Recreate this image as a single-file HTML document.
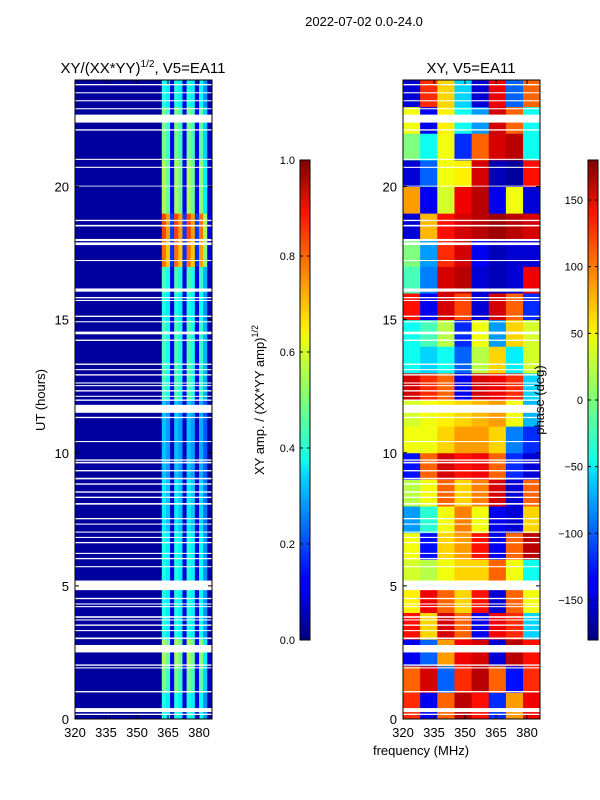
<!DOCTYPE html>
<html><head><meta charset="utf-8">
<style>
html,body{margin:0;padding:0;background:#fff;}
svg{display:block;font-family:"Liberation Sans","DejaVu Sans",sans-serif;}
</style></head>
<body>
<svg id="fig" width="600" height="800" viewBox="0 0 600 800" xmlns="http://www.w3.org/2000/svg">
<defs>
<linearGradient id="jet" x1="0" y1="1" x2="0" y2="0">
<stop offset="0" stop-color="#00007f"/><stop offset="0.11" stop-color="#0000ff"/><stop offset="0.125" stop-color="#0000ff"/>
<stop offset="0.34" stop-color="#00d4ff"/><stop offset="0.375" stop-color="#0dffea"/><stop offset="0.5" stop-color="#7dff7a"/>
<stop offset="0.625" stop-color="#eaff0d"/><stop offset="0.66" stop-color="#ffe600"/><stop offset="0.89" stop-color="#ff1300"/><stop offset="1" stop-color="#7f0000"/>
</linearGradient>
</defs>
<text x="364" y="26" font-size="13" text-anchor="middle">2022-07-02 0.0-24.0</text>
<text x="143" y="73" font-size="15" text-anchor="middle">XY/(XX*YY)<tspan font-size="10" dy="-6">1/2</tspan><tspan dy="6">, V5=EA11</tspan></text>
<text x="471" y="73" font-size="15" text-anchor="middle">XY, V5=EA11</text>
<g id="ampPanel"></g>
<g id="phasePanel"></g>
<text transform="translate(45,400) rotate(-90)" font-size="13" text-anchor="middle">UT (hours)</text>
<text x="421" y="755" font-size="13" text-anchor="middle">frequency (MHz)</text>
<rect x="300" y="160" width="10" height="480" fill="url(#jet)" stroke="#000" stroke-width="1"/>
<text transform="translate(264,400) rotate(-90)" font-size="13" text-anchor="middle">XY amp. / (XX*YY amp)<tspan font-size="9" dy="-6">1/2</tspan></text>
<rect x="588" y="160" width="10" height="480" fill="url(#jet)" stroke="#000" stroke-width="1"/>
<text transform="translate(544,400) rotate(-90)" font-size="13" text-anchor="middle">phase (deg)</text>
<g id="cbTicks"></g>
</svg>
<script>
const hours = [0,1,2,3,4,5,6,7,8,9,10,11,12,13,14,15,16,17,18,19,20,21,22,23];
const ampRowLevel = [0.45,0.55,0.6,0.45,0.45,0.45,0.45,0.4,0.4,0.35,0.35,0.35,0.5,0.5,0.5,0.45,0.5,0.85,0.9,0.6,0.6,0.55,0.55,0.45];
const ampFreqEdges = [320,362,364,366,368,370,372,374,376,378,380,382,384,386.3];
const ampFreqProfile = [0.03,0.9,0.8,0.2,0.9,0.8,0.2,0.9,0.8,0.2,0.85,0.6,0.1];
const phaseFreqEdges = [320,328.3,336.6,344.9,353.2,361.5,369.8,378.1,386.3];
const phaseGrid = [
[120,-140,100,160,130,-120,80,140],
[100,150,-100,120,160,100,-130,120],
[-140,-100,80,140,150,-150,160,130],
[130,60,150,100,-140,140,120,-60],
[50,140,100,60,130,-150,100,40],
[30,20,40,60,60,100,40,-40],
[40,-130,60,80,130,-140,100,160],
[-80,-30,40,90,40,-140,-150,60],
[20,40,100,60,90,150,-150,100],
[-130,100,150,130,140,100,-120,-150],
[40,40,60,80,80,60,-90,-120],
[30,40,50,60,70,80,40,-70],
[150,120,100,-140,150,140,120,-60],
[-40,-60,-40,-100,20,60,-50,30],
[-40,-20,20,-120,40,-80,60,30],
[130,-140,150,110,-150,150,100,-120],
[-20,-90,150,160,-150,-160,-150,140],
[0,-80,120,150,-140,-160,-150,-150],
[-150,70,130,150,160,170,160,150],
[80,-140,30,140,160,-140,40,-150],
[-150,-100,40,50,150,-160,-170,130],
[0,-40,40,-120,100,150,160,-40],
[40,-140,50,-40,-80,150,100,-40],
[-150,120,60,-60,-150,140,-100,100]];
const gapStart = [0.15,0.26,1.0,1.9,2.0,2.5,3.0,3.3,3.5,3.7,3.8,4.2,4.3,4.5,4.84,5.7,6.0,6.2,6.6,6.8,7.0,7.3,7.5,8.05,8.3,8.5,8.8,9.0,9.3,9.6,9.7,10.4,11.3,11.5,11.95,12.1,12.3,12.5,12.6,12.9,13.1,13.3,14.2,14.45,14.9,15.1,15.7,15.8,16.05,17.2,17.8,17.95,18.5,18.7,20.0,20.7,21.0,22.1,22.4,22.9,23.2,23.5,23.8];
const gapHeight = [0.05,0.15,0.05,0.04,0.05,0.28,0.06,0.04,0.05,0.04,0.06,0.04,0.04,0.05,0.36,0.04,0.05,0.04,0.05,0.04,0.04,0.04,0.05,0.06,0.05,0.05,0.05,0.06,0.05,0.06,0.05,0.04,0.05,0.3,0.05,0.04,0.05,0.04,0.04,0.05,0.04,0.05,0.05,0.1,0.04,0.05,0.04,0.05,0.12,0.04,0.1,0.08,0.06,0.05,0.03,0.04,0.04,0.05,0.3,0.04,0.04,0.04,0.05];
const xTicks = [320,335,350,365,380];
const yTicks = [0,5,10,15,20];
const ampCbTicks = [0.0,0.2,0.4,0.6,0.8,1.0];
const phaseCbTicks = [-150,-100,-50,0,50,100,150];

const NS="http://www.w3.org/2000/svg";
function jet(v){v=Math.max(0,Math.min(1,v));
 const r=Math.min(4*v-1.5,-4*v+4.5),g=Math.min(4*v-0.5,-4*v+3.5),b=Math.min(4*v+0.5,-4*v+2.5);
 const c=x=>Math.round(255*Math.max(0,Math.min(1,x)));return `rgb(${c(r)},${c(g)},${c(b)})`;}
function mk(tag,attrs,parent){const e=document.createElementNS(NS,tag);for(const k in attrs)e.setAttribute(k,attrs[k]);parent.appendChild(e);return e;}
function yScale(h){return 719-(h/24)*639;}
function panel(g,x0,w,fillFn,fEdges,name){
 const xS=f=>x0+(f-320)/(386.3-320)*w;
 hours.forEach((h,i)=>{for(let j=0;j<fEdges.length-1;j++){
  const r=mk('rect',{x:xS(fEdges[j]),y:yScale(h+1),width:xS(fEdges[j+1])-xS(fEdges[j])+0.5,height:yScale(h)-yScale(h+1)+0.5,fill:fillFn(i,j)},g);
  
  
 }});
 gapStart.forEach((s,i)=>{const r=mk('rect',{x:x0,y:yScale(s+gapHeight[i]),width:w,height:yScale(s)-yScale(s+gapHeight[i]),fill:'#fff'},g);
  
  });
 const fr=mk('rect',{x:x0,y:80,width:w,height:639,fill:'none',stroke:'#000','stroke-width':1},g);
 
 
 xTicks.forEach(t=>{const x=xS(t);
  mk('line',{x1:x,x2:x,y1:719,y2:715,stroke:'#000'},g);mk('line',{x1:x,x2:x,y1:80,y2:84,stroke:'#000'},g);
  const tx=mk('text',{x:x,y:737,'font-size':13,'text-anchor':'middle'},g);tx.textContent=t;
  
  });
 yTicks.forEach(t=>{const y=yScale(t);
  mk('line',{x1:x0,x2:x0+4,y1:y,y2:y,stroke:'#000'},g);mk('line',{x1:x0+w,x2:x0+w-4,y1:y,y2:y,stroke:'#000'},g);
  const tx=mk('text',{x:x0-6,y:y+5,'font-size':13,'text-anchor':'end'},g);tx.textContent=t;
  
  });
}
const phaseToUnit=p=>(p+180)/360;
panel(document.getElementById('ampPanel'),75,137,(i,j)=>jet(j===0?ampFreqProfile[0]:ampRowLevel[i]*ampFreqProfile[j]),ampFreqEdges,'amp');
panel(document.getElementById('phasePanel'),403,137,(i,j)=>jet(phaseToUnit(phaseGrid[i][j])),phaseFreqEdges,'phase');
const cg=document.getElementById('cbTicks');
ampCbTicks.forEach(t=>{const y=640-t*480;
 mk('line',{x1:300,x2:303,y1:y,y2:y,stroke:'#000'},cg);mk('line',{x1:310,x2:307,y1:y,y2:y,stroke:'#000'},cg);
 const tx=mk('text',{x:295,y:y+4,'font-size':11,'text-anchor':'end'},cg);tx.textContent=t.toFixed(1);
 
 });
phaseCbTicks.forEach(t=>{const y=640-phaseToUnit(t)*480;
 mk('line',{x1:588,x2:591,y1:y,y2:y,stroke:'#000'},cg);mk('line',{x1:598,x2:595,y1:y,y2:y,stroke:'#000'},cg);
 const tx=mk('text',{x:583,y:y+4,'font-size':11,'text-anchor':'end'},cg);tx.textContent=(t<0?'\u2212'+(-t):t);
 
 });
</script>
</body></html>
